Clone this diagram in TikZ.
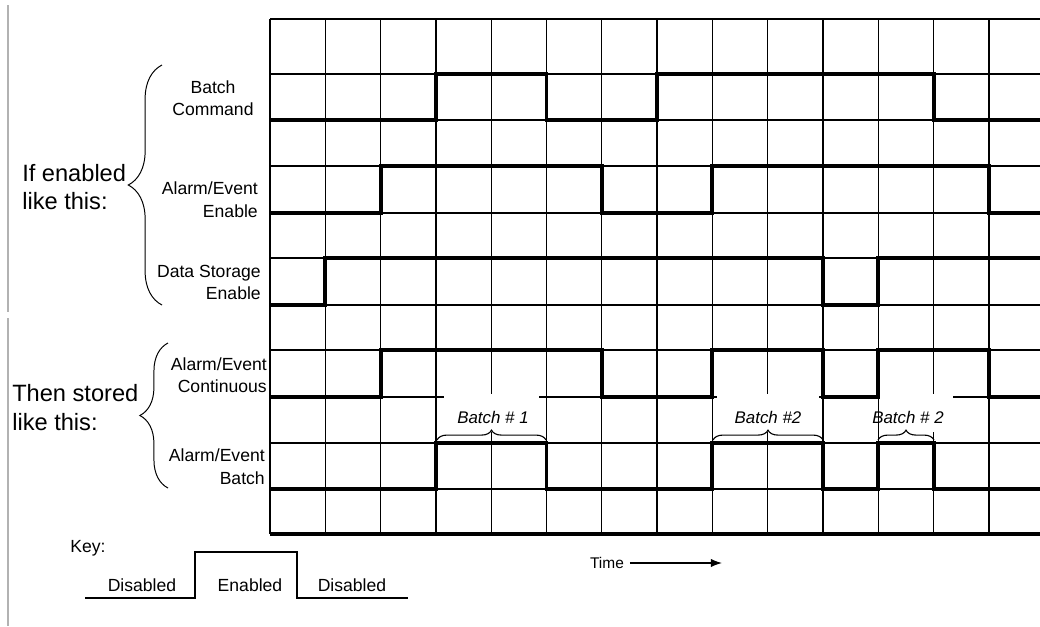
\documentclass[tikz,border=0pt]{standalone}
\usepackage{fontspec}
\setmainfont{Liberation Sans}
\usetikzlibrary{decorations.pathreplacing,arrows.meta}

\begin{document}
\begin{tikzpicture}[x=0.025cm, y=-0.025cm,
    grid/.style={line width=0.9pt},
    signal/.style={line width=2.8pt, line join=miter},
    label/.style={font=\fontsize{12.5}{16}\selectfont, inner sep=0pt},
    group/.style={font=\fontsize{16.8}{20.5}\selectfont, align=left, anchor=west, inner sep=0pt},
    batch/.style={font=\fontsize{12}{14}\selectfont\itshape, inner sep=0pt},
    curly/.style={decorate, line width=0.7pt},
    arrow/.style={-{Latex[length=8pt,width=6pt]}, line width=0.9pt}]

    \useasboundingbox (0,0) rectangle (1040,626);

    % page edge
    \draw[gray!60, line width=1.4pt] (8,5) -- (8,312);
    \draw[gray!60, line width=1.4pt] (8,318) -- (8,626);

    % grid
    \foreach \i in {0,...,13}
        \draw[grid] ({270+55.3*\i},19) -- ({270+55.3*\i},534);
    \foreach \y in {19,74,120,166,213,258,305,350,397,443,489}
        \draw[grid] (270,\y) -- (1040,\y);
    \draw[line width=2.3pt] (270,534) -- (1040,534);

    % label backgrounds
    \fill[white] (444,394) rectangle (539,432);
    \fill[white] (717,394) rectangle (819,432);
    \fill[white] (880,394) rectangle (953,432);

    % signals
    \draw[signal] (270,120) -- (435.9,120) -- (435.9,74) -- (546.5,74) -- (546.5,120)
        -- (657.1,120) -- (657.1,74) -- (933.6,74) -- (933.6,120) -- (1040,120);
    \draw[signal] (270,213) -- (380.6,213) -- (380.6,166) -- (601.8,166) -- (601.8,213)
        -- (712.4,213) -- (712.4,166) -- (988.9,166) -- (988.9,213) -- (1040,213);
    \draw[signal] (270,305) -- (325.3,305) -- (325.3,258) -- (823,258) -- (823,305)
        -- (878.3,305) -- (878.3,258) -- (1040,258);
    \draw[signal] (270,397) -- (380.6,397) -- (380.6,350) -- (601.8,350) -- (601.8,397)
        -- (712.4,397) -- (712.4,350) -- (823,350) -- (823,397) -- (878.3,397)
        -- (878.3,350) -- (988.9,350) -- (988.9,397) -- (1040,397);
    \draw[signal] (270,489) -- (435.9,489) -- (435.9,443) -- (546.5,443) -- (546.5,489)
        -- (712.4,489) -- (712.4,443) -- (823,443) -- (823,489) -- (878.3,489)
        -- (878.3,443) -- (933.6,443) -- (933.6,489) -- (1040,489);

    % signal names
    \node[label, align=center] (cmd) at (213,98) {Batch\\Command};
    \node[label, align=right, anchor=east] (aee) at (258,199.5) {Alarm/Event\\Enable};
    \node[label, align=right, anchor=east] (dse) at (261,282.5) {Data Storage\\Enable};
    \node[label, align=right, anchor=east] (aec) at (267,375) {Alarm/Event\\Continuous};
    \node[label, align=right, anchor=east] (aeb) at (265,466.5) {Alarm/Event\\Batch};

    % groups
    \node[group] (ifen) at (22,187) {If enabled\\like this:};
    \node[group] (thenst) at (12,407.5) {Then stored\\like this:};
    \draw[curly, decoration={brace, amplitude=24pt}] (162,305) -- (162,65);
    \draw[curly, decoration={brace, amplitude=20pt}] (168,488) -- (168,343);

    % batches
    \draw[curly, line width=0.8pt, decoration={brace, amplitude=7pt}] (437,440) -- (546,440);
    \draw[curly, line width=0.8pt, decoration={brace, amplitude=7pt}] (713,440) -- (823,440);
    \draw[curly, line width=0.8pt, decoration={brace, amplitude=7pt}] (878,440) -- (934,440);
    \node[batch] (b1) at (493,417) {Batch \# 1};
    \node[batch] (b2) at (768,417) {Batch \#2};
    \node[batch] (b3) at (908,417) {Batch \# 2};

    % key
    \node[label, anchor=west] (key) at (70,548) {Key:};
    \draw[line width=2pt] (85,598) -- (195,598) -- (195,552) -- (297,552) -- (297,598) -- (408,598);
    \node[label] (dis1) at (142,585) {Disabled};
    \node[label] (en) at (250,585) {Enabled};
    \node[label] (dis2) at (352,585) {Disabled};

    % time
    \node[label, font=\fontsize{11}{13}\selectfont] (time) at (607,563) {Time};
    \coordinate (timeend) at (722,563);
    \draw[arrow] ([xshift=4pt]time.east) -- (time.east -| timeend);
\end{tikzpicture}
\end{document}
